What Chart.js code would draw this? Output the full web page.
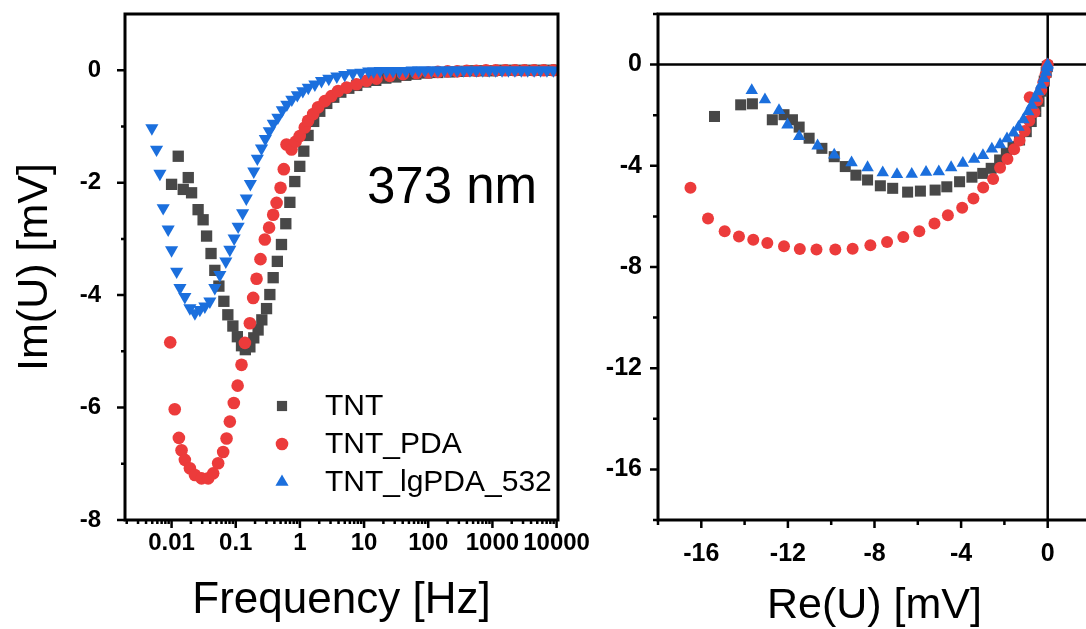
<!DOCTYPE html>
<html><head><meta charset="utf-8">
<script src="https://cdn.jsdelivr.net/npm/chart.js@4.4.1/dist/chart.umd.min.js"></script>
<style>
html,body{margin:0;padding:0;background:#fff;overflow:hidden;}
#wrap{position:relative;width:1086px;height:629px;overflow:hidden;background:#fff;}
#c1{position:absolute;left:0;top:0;}
#c2{position:absolute;left:600px;top:0;}
</style></head><body>
<div id="wrap">
<canvas id="c1" width="600" height="629"></canvas>
<canvas id="c2" width="520" height="629"></canvas>
</div>
<script>
// ---------- data ----------
const seriesNames = ['TNT', 'TNT_PDA', 'TNT_lgPDA_532'];

// Left panel: Im(U) [mV] vs frequency [Hz]
const tntFreq = [0.0100,0.0127,0.0152,0.0182,0.0205,0.0259,0.0310,0.0351,0.0412,0.0472,0.0546,0.0653,0.0753,0.0902,0.106,0.123,0.141,0.166,0.191,0.223,0.255,0.302,0.340,0.383,0.445,0.516,0.603,0.697,0.832,0.995,1.15,1.34,1.64,2.04,2.62,3.37,4.34,5.78,7.69,10.6,15.2,21.8,31.2,44.7,64.0,94.8,141,216,333,512,708,1000,1413,1995,2818,3981,5623,7943,10000];
const tntImF = [-2.03,-1.53,-2.12,-1.91,-2.18,-2.48,-2.66,-2.95,-3.26,-3.56,-3.84,-4.11,-4.35,-4.55,-4.74,-4.90,-4.97,-4.92,-4.76,-4.62,-4.44,-4.24,-3.99,-3.69,-3.40,-3.10,-2.73,-2.35,-1.98,-1.71,-1.44,-1.16,-0.91,-0.73,-0.59,-0.48,-0.39,-0.32,-0.27,-0.21,-0.18,-0.14,-0.12,-0.09,-0.07,-0.05,-0.04,-0.03,-0.02,-0.01,-0.01,-0.01,0,0,0,0,0,0,0];

const pdaFreq = [0.00953,0.0112,0.0130,0.0143,0.0161,0.0193,0.0231,0.0293,0.0372,0.0445,0.0532,0.0637,0.0719,0.0809,0.0933,0.107,0.123,0.139,0.166,0.187,0.211,0.243,0.284,0.331,0.383,0.433,0.499,0.561,0.618,0.740,0.859,0.995,1.19,1.34,1.61,1.92,2.44,3.10,3.94,5.32,7.62,10.9,15.6,25.1,40.5,65.5,100,141,200,282,398,562,794,1122,1585,2239,3162,4467,6310,8913];
const pdaImF = [-4.84,-6.03,-6.54,-6.76,-6.93,-7.08,-7.20,-7.26,-7.26,-7.17,-6.99,-6.79,-6.55,-6.25,-5.92,-5.61,-5.24,-4.85,-4.50,-4.05,-3.71,-3.36,-3.01,-2.80,-2.57,-2.36,-2.09,-1.76,-1.32,-1.41,-1.27,-1.17,-1.02,-0.90,-0.78,-0.66,-0.55,-0.46,-0.37,-0.31,-0.25,-0.19,-0.15,-0.10,-0.07,-0.05,-0.04,-0.03,-0.02,-0.02,-0.01,-0.01,0,0,0,0,0,0,0,0];

const lgFreq = [0.00493,0.00583,0.00658,0.00740,0.00885,0.0100,0.0120,0.0135,0.0161,0.0193,0.0231,0.0276,0.0330,0.0395,0.0472,0.0565,0.0701,0.0809,0.0944,0.109,0.128,0.146,0.169,0.191,0.217,0.252,0.289,0.333,0.385,0.453,0.532,0.625,0.748,0.912,1.11,1.35,1.71,2.17,2.82,3.76,5.00,6.67,8.89,11.8,14.1,17.8,22.4,28.2,35.5,44.7,56.2,70.8,89.1,112,141,178,224,282,355,447,562,708,891,1122,1413,1778,2239,2818,3548,4467,5623,7079,8913];
const lgImF = [-1.03,-1.41,-1.84,-2.45,-2.83,-3.20,-3.58,-3.87,-4.03,-4.23,-4.32,-4.26,-4.20,-4.11,-3.87,-3.64,-3.40,-3.19,-2.99,-2.78,-2.54,-2.28,-2.02,-1.80,-1.57,-1.39,-1.22,-1.08,-0.95,-0.84,-0.71,-0.61,-0.52,-0.44,-0.37,-0.31,-0.25,-0.19,-0.15,-0.11,-0.08,-0.05,-0.04,-0.02,-0.02,-0.01,-0.01,-0.01,-0.01,-0.01,0,0,0,0,0,0,0,0,0,0,0,0,0,0,0,0,0,0,0,0,0,0,0];

// Right panel: Im(U) vs Re(U) [mV]
const tntRe = [-15.39,-14.18,-13.64,-12.72,-12.18,-11.79,-11.48,-11.02,-10.43,-9.86,-9.35,-8.86,-8.32,-7.73,-7.16,-6.47,-5.88,-5.20,-4.66,-4.07,-3.50,-3.00,-2.61,-2.22,-1.91,-1.60,-1.30,-0.99,-0.76,-0.55,-0.40,-0.27,-0.16,-0.07,-0.02];
const tntImN = [-2.05,-1.59,-1.55,-2.18,-1.98,-2.18,-2.47,-2.91,-3.31,-3.64,-4.03,-4.37,-4.56,-4.79,-4.89,-5.04,-5.00,-4.96,-4.83,-4.63,-4.45,-4.30,-4.10,-3.77,-3.50,-3.24,-2.98,-2.65,-2.25,-1.85,-1.45,-1.05,-0.65,-0.30,-0.08];

const pdaRe = [-16.50,-15.69,-14.92,-14.26,-13.60,-12.95,-12.18,-11.45,-10.68,-9.81,-9.01,-8.19,-7.42,-6.67,-5.93,-5.23,-4.61,-3.95,-3.43,-2.98,-2.52,-2.20,-1.86,-1.55,-1.30,-1.06,-0.85,-0.62,-0.83,-0.48,-0.30,-0.20,-0.10,-0.03,0.00];
const pdaImN = [-4.87,-6.08,-6.59,-6.79,-6.92,-7.05,-7.18,-7.29,-7.31,-7.31,-7.28,-7.14,-7.01,-6.81,-6.59,-6.28,-5.95,-5.66,-5.29,-4.86,-4.52,-4.08,-3.73,-3.35,-3.00,-2.62,-2.22,-1.88,-1.29,-1.42,-1.00,-0.70,-0.40,-0.12,0.00];

const lgRe = [-13.67,-13.06,-12.41,-12.02,-11.48,-10.63,-9.86,-9.06,-8.32,-7.62,-6.96,-6.28,-5.62,-5.03,-4.46,-3.92,-3.40,-2.99,-2.58,-2.20,-1.88,-1.58,-1.35,-1.12,-0.90,-0.74,-0.58,-0.44,-0.30,-0.18,-0.08,-0.03,-0.01,0.00];
const lgImN = [-1.02,-1.39,-1.81,-2.38,-2.84,-3.21,-3.57,-3.88,-4.07,-4.27,-4.34,-4.33,-4.25,-4.23,-4.07,-3.90,-3.74,-3.59,-3.33,-3.16,-2.93,-2.70,-2.47,-2.18,-1.86,-1.60,-1.33,-1.07,-0.80,-0.55,-0.30,-0.12,-0.04,0.00];

// Ticks
const freqTickValues = [0.01, 0.1, 1, 10, 100, 1000, 10000];
const freqTickLabels = ['0.01', '0.1', '1', '10', '100', '1000', '10000'];
const imLeftTicks = [-8, -6, -4, -2, 0];
const imLeftTickLabels = ['-8', '-6', '-4', '-2', '0'];
const imLeftMinor = [-7, -5, -3, -1];
const reTicks = [-16, -12, -8, -4, 0];
const reTickLabels = ['-16', '-12', '-8', '-4', '0'];
const reMinor = [-18, -14, -10, -6, -2];
const imRightTicks = [-16, -12, -8, -4, 0];
const imRightTickLabels = ['-16', '-12', '-8', '-4', '0'];
const imRightMinor = [-18, -14, -10, -6, -2, 2];
const annotationText = '373 nm';

// ---------- styles ----------
const FONT = "'Liberation Sans', Arial, sans-serif";
const colGray = '#484848', colRed = '#ec3b3b', colBlue = '#1b6fdd';

function pts(xs, ys) { return xs.map((v, i) => ({ x: v, y: ys[i] })); }

function drawMarker(ctx, style, x, y, r, rot, color) {
  ctx.fillStyle = color;
  ctx.beginPath();
  if (style === 'circle') {
    ctx.arc(x, y, r, 0, Math.PI * 2);
  } else if (style === 'rect') {
    const s = Math.SQRT1_2 * r;
    ctx.rect(x - s, y - s, 2 * s, 2 * s);
  } else {
    let a = (rot || 0) * Math.PI / 180;
    for (let k = 0; k < 3; k++) {
      const px = x + Math.sin(a) * r, py = y - Math.cos(a) * r;
      if (k === 0) ctx.moveTo(px, py); else ctx.lineTo(px, py);
      a += 2 * Math.PI / 3;
    }
    ctx.closePath();
  }
  ctx.fill();
}

const decorPlugin = {
  id: 'decor',
  beforeDatasetsDraw(chart, args, o) {
    if (!o.zeroLines) return;
    const { ctx, chartArea: a, scales: { x, y } } = chart;
    ctx.save();
    ctx.strokeStyle = '#000';
    ctx.lineWidth = o.zeroWidth;
    const px = x.getPixelForValue(0), py = y.getPixelForValue(0);
    ctx.beginPath();
    ctx.moveTo(a.left, py); ctx.lineTo(a.right, py);
    ctx.moveTo(px, a.top); ctx.lineTo(px, a.bottom);
    ctx.stroke();
    ctx.restore();
  },
  afterDatasetsDraw(chart, args, o) {
    const { ctx, chartArea: a, scales: { x, y } } = chart;
    ctx.save();
    ctx.strokeStyle = '#000';
    ctx.lineCap = 'butt';
    ctx.lineWidth = o.tickWidth;
    ctx.beginPath();
    const xt = (vals, len) => vals.forEach(v => { const p = x.getPixelForValue(v); ctx.moveTo(p, a.bottom); ctx.lineTo(p, a.bottom + len); });
    const yt = (vals, len) => vals.forEach(v => { const p = y.getPixelForValue(v); ctx.moveTo(a.left, p); ctx.lineTo(a.left - len, p); });
    xt(o.xMajor, o.majorLen); xt(o.xMinor, o.minorLen);
    yt(o.yMajor, o.majorLen); yt(o.yMinor, o.minorLen);
    ctx.stroke();
    const h = o.frameWidth / 2;
    ctx.lineWidth = o.frameWidth;
    ctx.beginPath();
    ctx.moveTo(a.left - h, a.top); ctx.lineTo(a.right + h, a.top);
    ctx.moveTo(a.left, a.top); ctx.lineTo(a.left, a.bottom + h);
    ctx.moveTo(a.left - h, a.bottom); ctx.lineTo(a.right + h, a.bottom);
    if (o.rightBorder) { ctx.moveTo(a.right, a.top); ctx.lineTo(a.right, a.bottom); }
    ctx.stroke();
    ctx.restore();
  }
};

const legendPlugin = {
  id: 'inlegend',
  afterDraw(chart, args, o) {
    if (!o.items) return;
    const ctx = chart.ctx;
    ctx.save();
    o.items.forEach((it, i) => {
      const y = o.y + i * o.gap;
      drawMarker(ctx, it.style, o.markerX, y, it.radius, 0, it.color);
      ctx.fillStyle = '#000';
      ctx.font = o.font;
      ctx.textBaseline = 'middle';
      ctx.textAlign = 'left';
      ctx.fillText(it.text, o.textX, y + 1);
    });
    if (o.note) {
      ctx.fillStyle = '#000';
      ctx.font = o.note.font;
      ctx.textBaseline = 'middle';
      ctx.textAlign = 'left';
      ctx.fillText(o.note.text, o.note.x, o.note.y);
    }
    ctx.restore();
  }
};

Chart.register(decorPlugin, legendPlugin);

// minor ticks for the log axis: 2..9 x 10^k
const logMin = 0.00188, logMax = 10520;
const freqMinor = [];
for (let k = -3; k <= 4; k++) for (let m = 2; m <= 9; m++) {
  const v = m * Math.pow(10, k);
  if (v > logMin && v < logMax) freqMinor.push(v);
}

const common = { responsive: false, animation: false, events: [] };
const noPadX = (h) => s => { s.height = h; s.paddingLeft = 0; s.paddingRight = 0; s.paddingTop = 0; s.paddingBottom = 0; };
const noPadY = (w) => s => { s.width = w; s.paddingLeft = 0; s.paddingRight = 0; s.paddingTop = 0; s.paddingBottom = 0; };

// ---------- left chart ----------
new Chart(document.getElementById('c1'), {
  type: 'scatter',
  data: {
    datasets: [
      { label: seriesNames[0], data: pts(tntFreq, tntImF), pointStyle: 'rect', pointRadius: 8, backgroundColor: colGray, borderWidth: 0, pointBorderWidth: 0, order: 2 },
      { label: seriesNames[1], data: pts(pdaFreq, pdaImF), pointStyle: 'circle', pointRadius: 6.3, backgroundColor: colRed, borderWidth: 0, pointBorderWidth: 0, order: 1 },
      { label: seriesNames[2], data: pts(lgFreq, lgImF), pointStyle: 'triangle', pointRotation: 180, pointRadius: 7.6, backgroundColor: colBlue, borderWidth: 0, pointBorderWidth: 0, order: 0 }
    ]
  },
  options: {
    ...common,
    layout: { padding: { top: 14, left: 0, right: 42, bottom: 0 } },
    plugins: {
      legend: { display: false },
      tooltip: { enabled: false },
      decor: { xMajor: freqTickValues, xMinor: freqMinor, yMajor: imLeftTicks, yMinor: imLeftMinor, majorLen: 8, minorLen: 4, tickWidth: 2.5, frameWidth: 3, rightBorder: true, zeroLines: false },
      inlegend: {
        items: [
          { text: seriesNames[0], style: 'rect', radius: 7.2, color: colGray },
          { text: seriesNames[1], style: 'circle', radius: 6.3, color: colRed },
          { text: seriesNames[2], style: 'triangle', radius: 7.6, color: colBlue }
        ],
        markerX: 282, textX: 325, y: 406, gap: 38, font: "30px " + FONT,
        note: { text: annotationText, x: 367, y: 189, font: "51px " + FONT }
      }
    },
    scales: {
      x: {
        type: 'logarithmic', min: logMin, max: logMax, position: 'bottom',
        afterBuildTicks: s => { s.ticks = freqTickValues.map(v => ({ value: v })); },
        afterFit: noPadX(109),
        ticks: { callback: (v, i) => freqTickLabels[i], autoSkip: false, maxRotation: 0, minRotation: 0, padding: 1, color: '#000', font: { family: FONT, size: 24, weight: 'bold' } },
        grid: { display: false, drawTicks: true, tickLength: 8 },
        border: { display: false },
        title: { display: true, text: 'Frequency [Hz]', color: '#000', font: { family: FONT, size: 44, lineHeight: 1 }, padding: { top: 0, bottom: 6 } }
      },
      y: {
        type: 'linear', min: -8, max: 1,
        afterBuildTicks: s => { s.ticks = imLeftTicks.map(v => ({ value: v })); },
        afterFit: noPadY(125),
        ticks: { callback: (v, i) => imLeftTickLabels[i], autoSkip: false, padding: 16, color: '#000', font: { family: FONT, size: 24, weight: 'bold' } },
        grid: { display: false, drawTicks: true, tickLength: 8 },
        border: { display: false },
        title: { display: true, text: 'Im(U) [mV]', color: '#000', font: { family: FONT, size: 43, lineHeight: 1 }, padding: { top: 14, bottom: 0 } }
      }
    }
  }
});

// ---------- right chart ----------
new Chart(document.getElementById('c2'), {
  type: 'scatter',
  data: {
    datasets: [
      { label: seriesNames[0], data: pts(tntRe, tntImN), pointStyle: 'rect', pointRadius: 7.8, backgroundColor: colGray, borderWidth: 0, pointBorderWidth: 0, order: 2 },
      { label: seriesNames[1], data: pts(pdaRe, pdaImN), pointStyle: 'circle', pointRadius: 6, backgroundColor: colRed, borderWidth: 0, pointBorderWidth: 0, order: 1 },
      { label: seriesNames[2], data: pts(lgRe, lgImN), pointStyle: 'triangle', pointRadius: 7.2, backgroundColor: colBlue, borderWidth: 0, pointBorderWidth: 0, order: 0 }
    ]
  },
  options: {
    ...common,
    layout: { padding: { top: 14, left: 0, right: 29, bottom: 0 } },
    plugins: {
      legend: { display: false },
      tooltip: { enabled: false },
      decor: { xMajor: reTicks, xMinor: reMinor, yMajor: imRightTicks, yMinor: imRightMinor, majorLen: 8, minorLen: 5, tickWidth: 2.5, frameWidth: 3, rightBorder: true, zeroLines: true, zeroWidth: 2.5 }
    },
    scales: {
      x: {
        type: 'linear', min: -18, max: 2, position: 'bottom',
        afterBuildTicks: s => { s.ticks = reTicks.map(v => ({ value: v })); },
        afterFit: noPadX(109),
        ticks: { callback: (v, i) => reTickLabels[i], autoSkip: false, maxRotation: 0, minRotation: 0, padding: 11, color: '#000', font: { family: FONT, size: 25, weight: 'bold' } },
        grid: { display: false, drawTicks: true, tickLength: 8 },
        border: { display: false },
        title: { display: true, text: 'Re(U) [mV]', color: '#000', font: { family: FONT, size: 43, lineHeight: 1 }, padding: { top: 0, bottom: 1 } }
      },
      y: {
        type: 'linear', min: -18, max: 2,
        afterBuildTicks: s => { s.ticks = imRightTicks.map(v => ({ value: v })); },
        afterFit: noPadY(58),
        ticks: { callback: (v, i) => imRightTickLabels[i], autoSkip: false, padding: 8, color: '#000', font: { family: FONT, size: 25, weight: 'bold' } },
        grid: { display: false, drawTicks: true, tickLength: 8 },
        border: { display: false },
        title: { display: false }
      }
    }
  }
});
</script>
</body></html>
